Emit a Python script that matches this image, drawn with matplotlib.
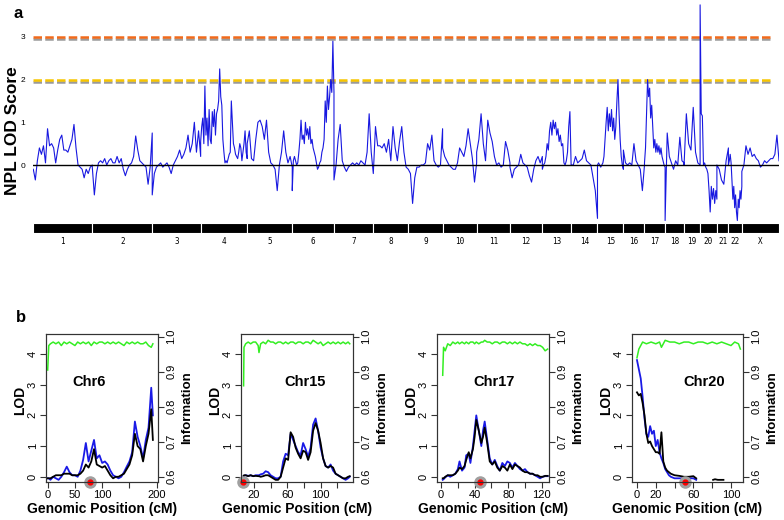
import numpy as np
import matplotlib
matplotlib.use("Agg")
import matplotlib.pyplot as plt

plt.rcParams['font.family'] = ['Liberation Sans', 'DejaVu Sans']

# ---- panel a : genome-wide NPL LOD scan ----
chrom_names = ['1', '2', '3', '4', '5', '6', '7', '8', '9', '10', '11', '12',
               '13', '14', '15', '16', '17', '18', '19', '20', '21', '22', 'X']
chrom_len = [246, 250, 202, 194, 188, 174, 164, 146, 143, 142, 139, 135,
             120, 110, 108, 88, 86, 79, 67, 70, 48, 56, 155]

chr1_lod = [-0.1, -0.35, 0.1, 0.4, 0.25, 0.45, 0.05, 0.85, 0.45, 0.5, 0.4, 0.05, 0.35, 0.6, 0.7,
            0.35, 0.35, 0.3, 0.45, 0.6, 0.95, 0.4, 0.0, -0.05, -0.1, -0.3, -0.1, -0.2, -0.05, 0.0]
chr2_lod = [-0.05, -0.7, -0.2, 0.05, 0.1, 0.05, 0.15, 0.0, 0.1, 0.15, 0.05, 0.05, 0.2, 0.05, 0.15,
            -0.1, -0.25, -0.1, 0.0, 0.05, 0.2, 0.68, 0.35, 0.1, 0.05, 0.0, -0.05, -0.45, -0.05, 0.75]
chr3_lod = [-0.7, -0.2, -0.05, 0.0, 0.05, -0.05, 0.0, 0.05, -0.05, -0.2, 0.0, 0.1, 0.2, 0.35,
            0.15, 0.25, 0.4, 0.7, 0.3, 0.5, 1.0, 0.3, 0.8, 0.2]
chr4_lod = [0.55, 0.9, 1.1, 0.5, 1.85, 0.7, 1.1, 0.45, 1.3, 0.6, 0.5, 1.25, 0.9, 1.3, 0.7, 1.2,
            1.3, 1.5, 2.25, 1.6, 1.4, 0.6, 0.3, 0.05, 0.1, 0.05, 0.15, 0.25, 0.3, 1.5, 1.0, 0.5,
            0.4, 0.25, 0.2, 0.15, 0.3, 0.5, 0.4, 0.1, 0.3, 0.5, 0.8, 0.3, 0.15]
chr5_lod = [0.5, 0.8, 0.15, 0.1, 0.6, 1.0, 1.05, 0.9, 0.6, 1.05, 0.3, 0.05, 0.0, -0.1, -0.6, 0.0,
            0.3, 0.8, 0.3, 0.05, 0.2, -0.05]
chr6_lod = [-0.6, 0.1, 0.2, 0.1, 0.0, 0.05, 0.3, 0.6, 1.05, 0.6, 0.7, 0.5, 1.0, 0.7, 0.85, 0.6,
            0.9, 0.5, 0.6, 0.4, 0.3, 0.2, 0.05, -0.1, -0.05, 0.05, 0.1, 0.3, 0.4, 0.6, 1.5, 1.0,
            1.85, 1.3, 1.6, 2.0, 1.7, 2.9, 1.7]
chr7_lod = [-0.35, 0.0, 0.6, 0.95, 0.1, -0.05, -0.15, -0.05, 0.0, 0.05, 0.0, 0.05, 0.0, 0.1, 0.05,
            0.0, 0.3, 1.2, 0.3, -0.2]
chr8_lod = [-0.2, 0.9, 0.45, 0.45, 0.4, 0.5, 0.3, 0.6, 0.1, 0.9, 0.4, 0.1, 0.55, 0.9, 0.3, -0.05, -0.1]
chr9_lod = [-0.1, -0.2, -0.9, -0.3, -0.05, -0.05, 0.0, 0.0, 0.05, 0.5, 0.35, 0.7, 0.1, 0.0, -0.05, 0.0, 0.85]
chr10_lod = [0.4, 0.2, 0.1, 0.0, -0.05, -0.1, -0.1, 0.05, 0.4, 0.3, 0.2, 0.45, 0.85, 0.5, 0.15, -0.4, 0.05]
chr11_lod = [0.3, 0.6, 1.2, 0.5, 0.1, 1.05, 0.75, 0.55, 0.2, 0.0, 0.05, -0.05, 0.0, 0.55, 0.35, 0.05]
chr12_lod = [-0.05, -0.3, -0.1, -0.05, 0.0, 0.25, 0.05, 0.0, -0.05, -0.25, -0.4, -0.1, 0.1, 0.2, 0.05, 0.2]
chr13_lod = [-0.1, 0.0, 0.05, 0.2, 0.5, 0.35, 0.8, 1.0, 0.7, 1.05, 0.85, 1.0, 0.7, 0.85, 0.55, 0.7,
             0.45, 0.5, 0.05, 0.0, 0.1, 0.3, 0.9, 1.25, 0.1]
chr14_lod = [0.0, 0.0, 0.2, 0.05, 0.1, 0.15, 0.35, 0.1, 0.05, 0.0, -0.3, -0.6, -1.25]
chr15_lod = [0.0, 0.05, 0.0, -0.05, 0.0, 0.05, 0.2, 0.6, 1.0, 1.35, 0.8, 1.2, 0.9, 1.3, 0.8, 1.1,
             0.6, 0.9, 1.5, 2.0, 1.2, 0.6, 0.2, 0.0, -0.1]
chr16_lod = [0.35, 0.05, 0.0, 0.05, 0.0, 0.5, 0.1, 0.0, -0.1, -0.6, 0.0]
chr17_lod = [0.05, 0.4, 1.2, 2.0, 1.6, 1.8, 1.1, 1.4, 0.9, 0.4, 0.6, 0.3, 0.5, 0.3, 0.45, 0.25,
             0.4, 0.2, 0.1, 0.0, -0.05]
chr18_lod = [-1.3, 0.75, 0.2, 0.05, -0.1, 0.1, 0.0, 0.65, 0.1, 0.05]
chr19_lod = [0.0, 1.2, 0.5, 0.35, 1.35, 0.3, 0.05, 0.0]
chr20_lod = [3.75, 1.2, 1.15, 0.0, 0.05, -0.05, -0.1, -0.2, -0.6, -1.1, -0.5, -0.8, -0.55, -0.9,
             -0.6, -0.8]
chr21_lod = [0.0, -0.1, -0.35, -0.45, 0.1, 0.4]
chr22_lod = [0.0, 0.1, 0.25, 0.05, -0.4, -0.8, -0.5, -1.0, -0.7, -1.1, -1.3, -0.8, -1.0, -0.6,
             -0.8, -0.5]
chrX_lod = [-0.15, 0.0, 0.45, 0.25, 0.4, 0.2, 0.25, 0.15, 0.1, -0.05, 0.0, 0.1, 0.05, 0.1, 0.15,
            0.15, 0.25, 0.7, 0.1]

genome_lod = [chr1_lod, chr2_lod, chr3_lod, chr4_lod, chr5_lod, chr6_lod, chr7_lod, chr8_lod,
              chr9_lod, chr10_lod, chr11_lod, chr12_lod, chr13_lod, chr14_lod, chr15_lod,
              chr16_lod, chr17_lod, chr18_lod, chr19_lod, chr20_lod, chr21_lod, chr22_lod, chrX_lod]

# ---- panel b : single chromosome scans ----
b_titles = ['Chr6', 'Chr15', 'Chr17', 'Chr20']

chr6_pos = [0, 2, 5, 10, 15, 20, 25, 30, 35, 40, 45, 50, 55, 60, 65, 70, 75, 80, 85, 90, 95, 100,
            105, 110, 115, 120, 125, 130, 135, 140, 145, 150, 155, 160, 165, 170, 175, 180, 185, 190, 193]
chr6_blue = [-0.05, -0.05, -0.1, 0.0, -0.05, -0.1, 0.0, 0.15, 0.33, 0.15, 0.05, 0.05, 0.0, 0.2, 0.55,
             1.1, 0.5, 0.85, 1.2, 0.6, 0.7, 0.45, 0.5, 0.4, 0.2, 0.05, 0.0, -0.05, 0.0, 0.15, 0.33,
             0.5, 0.8, 1.8, 1.3, 1.0, 0.6, 1.2, 1.6, 2.9, 2.0]
chr6_black = [-0.05, -0.05, -0.05, 0.0, 0.05, 0.05, 0.05, 0.1, 0.1, 0.1, 0.05, 0.05, 0.05, 0.1, 0.2,
              0.4, 0.3, 0.5, 0.9, 0.4, 0.35, 0.3, 0.35, 0.2, 0.05, -0.05, 0.0, 0.0, 0.05, 0.1, 0.25,
              0.4, 0.7, 1.4, 1.0, 0.9, 0.5, 1.0, 1.4, 2.2, 1.2]
chr6_info = [0.905, 0.975, 0.98, 0.985, 0.98, 0.985, 0.975, 0.985, 0.98, 0.985, 0.98, 0.975, 0.985,
             0.98, 0.985, 0.98, 0.985, 0.975, 0.985, 0.98, 0.985, 0.985, 0.98, 0.985, 0.98, 0.985,
             0.98, 0.985, 0.98, 0.975, 0.985, 0.98, 0.985, 0.98, 0.985, 0.98, 0.98, 0.985, 0.975,
             0.97, 0.98]

chr15_pos = [7.5, 8, 10, 13, 16, 19, 22, 25, 26, 28, 31, 34, 37, 40, 43, 46, 49, 52, 55, 58, 61, 64,
             67, 70, 73, 76, 79, 82, 85, 88, 91, 94, 97, 100, 103, 106, 109, 112, 115, 118, 121,
             124, 127, 130, 133, 135]
chr15_blue = [0.02, 0.03, 0.05, 0.03, 0.05, 0.02, 0.05, 0.05, 0.05, 0.08, 0.1, 0.18, 0.15, 0.05, 0.0,
              -0.05, -0.05, 0.0, 0.5, 0.75, 0.7, 1.4, 1.2, 1.0, 0.8, 0.7, 1.1, 0.9, 0.65, 0.95, 1.7,
              1.9, 1.5, 0.95, 0.6, 0.35, 0.3, 0.4, 0.2, 0.1, 0.05, 0.0, -0.05, -0.1, -0.05, 0.0]
chr15_black = [0.03, 0.05, 0.05, 0.02, 0.05, 0.02, 0.03, 0.02, 0.02, 0.0, 0.02, 0.05, 0.05, 0.0, -0.05,
               -0.1, -0.1, 0.0, 0.3, 0.6, 0.55, 1.45, 1.3, 0.95, 0.75, 0.6, 0.85, 0.8, 0.55, 0.8, 1.5,
               1.75, 1.5, 1.1, 0.6, 0.35, 0.3, 0.35, 0.3, 0.1, 0.05, 0.0, -0.05, -0.05, 0.0, 0.02]
chr15_info = [0.86, 0.97, 0.98, 0.985, 0.98, 0.985, 0.985, 0.975, 0.955, 0.98, 0.985, 0.98, 0.99,
              0.985, 0.985, 0.98, 0.985, 0.985, 0.98, 0.985, 0.98, 0.985, 0.985, 0.98, 0.985, 0.985,
              0.98, 0.985, 0.985, 0.98, 0.99, 0.985, 0.98, 0.985, 0.975, 0.98, 0.985, 0.98, 0.985,
              0.98, 0.985, 0.98, 0.985, 0.98, 0.985, 0.98]

chr17_pos = [2, 3, 5, 8, 11, 14, 17, 20, 22, 25, 28, 30, 33, 35, 38, 40, 42, 45, 48, 50, 52, 55, 58,
             61, 64, 67, 70, 73, 76, 79, 82, 85, 88, 91, 94, 97, 100, 103, 106, 109, 112, 115, 118,
             121, 124, 127]
chr17_blue = [-0.1, -0.08, -0.02, 0.05, 0.0, 0.05, 0.1, 0.25, 0.5, 0.2, 0.3, 0.7, 0.75, 0.45, 1.0,
              1.5, 2.0, 1.5, 1.0, 1.5, 1.8, 1.2, 0.6, 0.4, 0.55, 0.35, 0.2, 0.45, 0.35, 0.5, 0.45,
              0.3, 0.45, 0.35, 0.25, 0.2, 0.25, 0.15, 0.1, 0.1, 0.05, 0.0, -0.05, 0.0, 0.02, 0.02]
chr17_black = [-0.05, -0.05, 0.0, 0.05, 0.05, 0.05, 0.1, 0.2, 0.3, 0.25, 0.35, 0.55, 0.8, 0.6, 0.9,
               1.3, 1.85, 1.5, 1.1, 1.3, 1.6, 1.1, 0.5, 0.4, 0.5, 0.3, 0.2, 0.35, 0.3, 0.2, 0.4,
               0.25, 0.4, 0.35, 0.3, 0.2, 0.15, 0.15, 0.1, 0.1, 0.05, 0.05, 0.0, 0.0, 0.03, 0.03]
chr17_info = [0.89, 0.97, 0.96, 0.98, 0.975, 0.985, 0.98, 0.985, 0.98, 0.985, 0.98, 0.985, 0.98,
              0.985, 0.985, 0.98, 0.985, 0.98, 0.985, 0.985, 0.99, 0.985, 0.985, 0.98, 0.985, 0.985,
              0.98, 0.985, 0.985, 0.98, 0.985, 0.98, 0.985, 0.98, 0.985, 0.98, 0.98, 0.975, 0.98,
              0.975, 0.98, 0.975, 0.975, 0.97, 0.96, 0.965]

chr20_pos = [0, 2, 4, 6, 8, 10, 12, 14, 16, 18, 20, 22, 24, 26, 28, 30, 32, 34, 36, 40, 45, 50, 55,
             60, 63, 70, 81, 83, 86, 92]
chr20_blue = [3.8, 3.5, 3.2, 2.6, 1.9, 1.4, 1.3, 1.65, 1.4, 1.5, 1.0, 1.2, 0.8, 0.6, 0.45, 0.25,
              0.15, 0.05, 0.0, -0.05, -0.05, -0.05, -0.05, -0.05, -0.1, np.nan, np.nan, np.nan,
              np.nan, np.nan]
chr20_black = [2.75, 2.65, 2.7, 2.4, 2.0, 1.4, 1.1, 1.15, 1.0, 0.9, 0.8, 0.8, 0.75, 1.45, 0.5, 0.3,
               0.2, 0.15, 0.1, 0.05, 0.03, 0.0, 0.0, 0.02, -0.05, np.nan, -0.1, -0.08, -0.1, -0.1]
chr20_info_pos = [0, 2, 4, 6, 10, 15, 20, 24, 26, 30, 35, 40, 45, 50, 55, 60, 65, 70, 75, 80, 85,
                  90, 95, 100, 104, 108, 110]
chr20_info = [0.94, 0.965, 0.975, 0.985, 0.98, 0.985, 0.98, 0.985, 0.97, 0.99, 0.985, 0.985, 0.98,
              0.985, 0.985, 0.98, 0.985, 0.985, 0.98, 0.985, 0.98, 0.985, 0.98, 0.975, 0.985, 0.98,
              0.965]

b_pos = [chr6_pos, chr15_pos, chr17_pos, chr20_pos]
b_blue = [chr6_blue, chr15_blue, chr17_blue, chr20_blue]
b_black = [chr6_black, chr15_black, chr17_black, chr20_black]
b_info_pos = [chr6_pos, chr15_pos, chr17_pos, chr20_info_pos]
b_info = [chr6_info, chr15_info, chr17_info, chr20_info]
b_marker = [78, 7, 46, 51]   # red dot position (cM)
b_xticks = [[0, 50, 100, 150, 200], [20, 40, 60, 80, 100, 120],
            [0, 20, 40, 60, 80, 100, 120], [0, 20, 40, 60, 80, 100]]
b_xticklabels = [['0', '50', '100', '', '200'], ['20', '', '60', '', '100', ''],
                 ['0', '', '40', '', '80', '', '120'], ['0', '20', '', '60', '', '100']]

# ---------------------------------------------------------------
W, H = 784, 520
fig = plt.figure(figsize=(W / 100, H / 100), dpi=100)


def px_axes(x0, y0, x1, y1):
    return fig.add_axes([x0 / W, 1 - y1 / H, (x1 - x0) / W, (y1 - y0) / H])


total = sum(chrom_len)
starts = np.concatenate([[0], np.cumsum(chrom_len)[:-1]])

ax = px_axes(33.3, 0, 779, 235)
xs, ys = [], []
for s, L, vals in zip(starts, chrom_len, genome_lod):
    xs.append(np.linspace(s, s + L, len(vals)))
    ys.append(vals)
xs = np.concatenate(xs)
ys = np.concatenate(ys)
ax.set_xlim(0, total)
ax.set_ylim(-1.639, 3.864)
dash = (3.4, 1.3)
ax.plot([0, total * 0.992], [3.0 - 0.045] * 2, color='#9a9a9a', lw=1.8, dashes=dash, zorder=1)
ax.plot([0, total * 0.992], [3.0] * 2, color='#f26a1b', lw=1.8, dashes=dash, zorder=2)
ax.plot([0, total * 0.992], [2.0 - 0.045] * 2, color='#9a9a9a', lw=1.8, dashes=dash, zorder=1)
ax.plot([0, total * 0.992], [2.0] * 2, color='#f7c500', lw=1.8, dashes=dash, zorder=2)
ax.plot(xs, ys, color='#1818e0', lw=0.8, zorder=3)
ax.axhline(0, color='black', lw=1.0, zorder=4)
for sp in ax.spines.values():
    sp.set_visible(False)
ax.set_xticks([])
ax.set_yticks([0, 1, 2, 3])
ax.tick_params(axis='y', length=0, labelsize=6, pad=6)
ax.set_ylabel('NPL LOD Score', fontsize=12.5, fontweight='bold')
ax.yaxis.set_label_coords(-0.0172, 0.443)

axb = px_axes(33.3, 223, 779, 233)
axb.broken_barh([(s, L) for s, L in zip(starts, chrom_len)], (0, 1),
                facecolors='black', edgecolors='white', linewidth=0.8)
axb.set_xlim(0, total)
axb.set_ylim(0, 1)
axb.axis('off')
for s, L, name in zip(starts, chrom_len, chrom_names):
    axb.text(s + L / 2, -0.45, name, ha='center', va='top', fontsize=5.5,
             family='DejaVu Sans Mono')

fig.text(18 / W, 1 - 13 / H, 'a', fontsize=12, fontweight='bold', ha='center', va='center')
fig.text(21 / W, 1 - 318 / H, 'b', fontsize=12, fontweight='bold', ha='center', va='center')

# panel b
frames = [(46, 158), (241, 353), (437, 549), (632, 743)]
xlims = [(-3.1, 202.4), (4.4, 138.9), (-4.8, 128.6), (-5.3, 112.8)]
title_x = [0.384, 0.571, 0.509, 0.649]
lod_lim = (-0.17, 4.65)
info_lim = (0.585, 1.008)

for i in range(4):
    x0, x1 = frames[i]
    a = px_axes(x0, 334, x1, 482)
    a.plot(b_pos[i], b_blue[i], color='#1a1ae6', lw=1.3, zorder=2)
    a.plot(b_pos[i], b_black[i], color='black', lw=1.3, zorder=3)
    a.set_xlim(*xlims[i])
    a.set_ylim(*lod_lim)
    a.set_xticks(b_xticks[i])
    a.set_xticklabels(b_xticklabels[i])
    a.set_yticks([0, 1, 2, 3, 4])
    a.set_yticklabels(['0', '1', '2', '3', '4'], rotation=90, va='center')
    a.tick_params(direction='out', length=4, width=0.8, labelsize=8, pad=2, color='#333333')
    for sp in a.spines.values():
        sp.set_color('#333333')
        sp.set_linewidth(0.8)
    a.set_ylabel('LOD', fontsize=10, fontweight='bold')
    a.yaxis.set_label_coords(-0.17, 0.55)
    a.set_xlabel('Genomic Position (cM)', fontsize=10, fontweight='bold', labelpad=1)
    a.text(title_x[i], 0.676, b_titles[i], transform=a.transAxes, fontsize=10.5,
           fontweight='bold', ha='center', va='center')
    a.plot(b_marker[i], lod_lim[0], 'o', ms=8, color='#a0a0a0', clip_on=False, zorder=6)
    a.plot(b_marker[i], lod_lim[0], 'o', ms=3.5, color='red', clip_on=False, zorder=7)

    t = a.twinx()
    t.plot(b_info_pos[i], b_info[i], color='#33ee22', lw=1.1)
    t.set_ylim(*info_lim)
    t.set_yticks([0.6, 0.7, 0.8, 0.9, 1.0])
    t.set_yticklabels(['0.6', '0.7', '0.8', '0.9', '1.0'], rotation=90, va='center')
    t.tick_params(direction='out', length=4, width=0.8, labelsize=8, pad=2, color='#333333')
    for sp in t.spines.values():
        sp.set_color('#333333')
        sp.set_linewidth(0.8)
    t.set_ylabel('Information', fontsize=9.5, fontweight='bold', rotation=90)
    t.yaxis.set_label_coords(1.205, 0.5)

fig.savefig('out.png', dpi=100)
